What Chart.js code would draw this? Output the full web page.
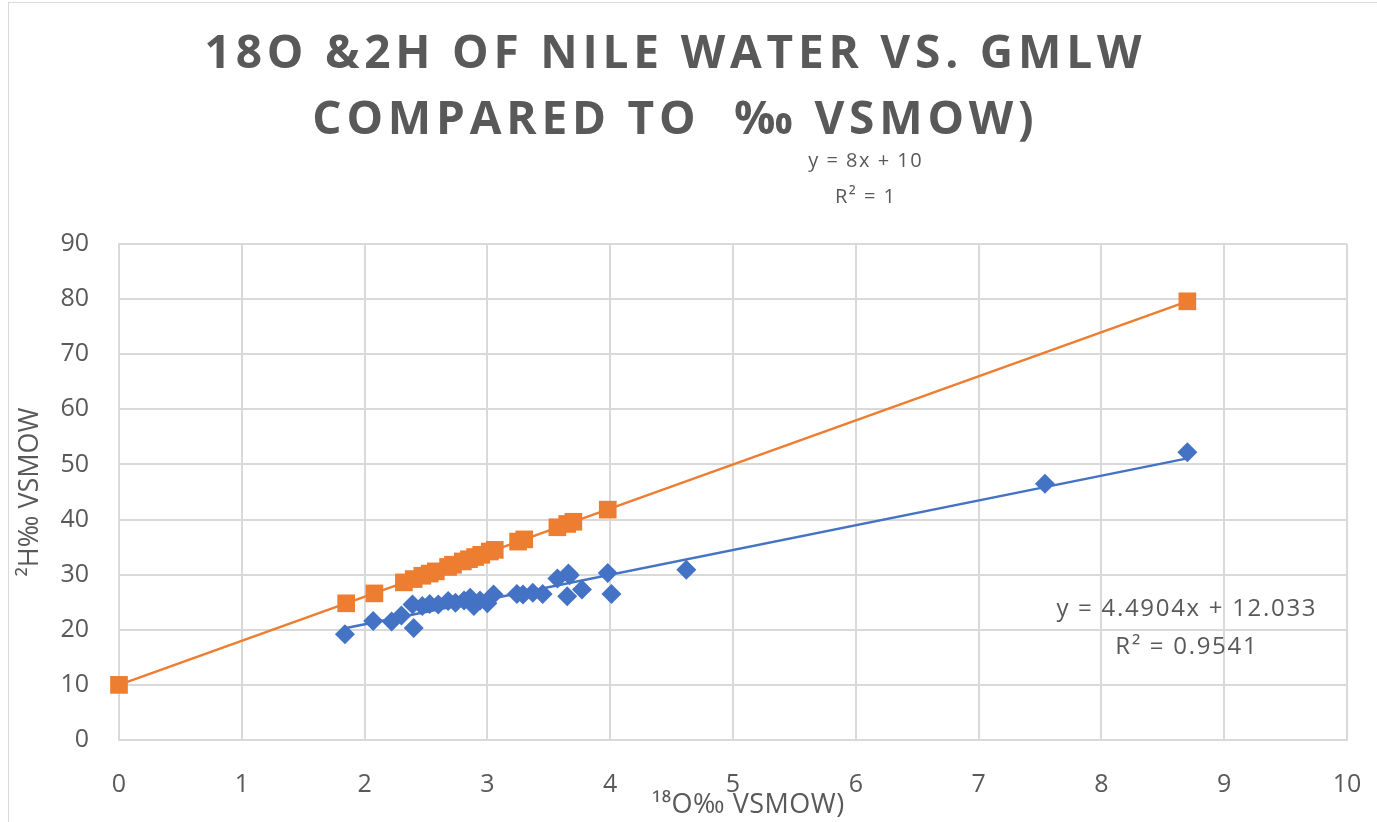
<!DOCTYPE html>
<html>
<head>
<meta charset="utf-8">
<script src="https://cdn.jsdelivr.net/npm/chart.js@4.4.1/dist/chart.umd.min.js"></script>
<style>
  html, body { margin: 0; padding: 0; background: #fff; }
  #wrap { position: relative; width: 1377px; height: 822px; }
  #frame { position: absolute; left: 8px; top: 2px; width: 1380px; height: 830px; border: 1px solid #d9d9d9; box-sizing: border-box; pointer-events: none; }
  canvas { display: block; }
</style>
</head>
<body>
<div id="wrap">
  <canvas id="c" width="1377" height="822"></canvas>
  <div id="frame"></div>
</div>
<script>
// ---- Data ----
const nileO18 = [1.84, 2.07, 2.22, 2.30, 2.39, 2.40, 2.47, 2.53, 2.60, 2.68, 2.74, 2.81, 2.86, 2.89, 2.94, 3.00, 3.05, 3.24, 3.29, 3.37, 3.45, 3.57, 3.66, 3.67, 3.65, 3.77, 3.98, 4.01, 4.62, 7.54, 8.70];
const nileH2  = [19.2, 21.6, 21.5, 22.6, 24.6, 20.3, 24.3, 24.7, 24.6, 25.2, 24.9, 25.3, 25.8, 24.3, 25.3, 24.8, 26.4, 26.5, 26.4, 26.7, 26.5, 29.3, 30.2, 29.9, 26.1, 27.3, 30.3, 26.5, 30.9, 46.5, 52.2];

const gmwlO18 = [0, 1.85, 2.08, 2.32, 2.40, 2.47, 2.53, 2.58, 2.68, 2.72, 2.80, 2.85, 2.90, 2.95, 3.02, 3.06, 3.25, 3.30, 3.57, 3.65, 3.70, 3.98, 8.70];
const gmwlH2  = [10, 24.8, 26.6, 28.6, 29.2, 29.8, 30.2, 30.6, 31.4, 31.8, 32.4, 32.8, 33.2, 33.6, 34.2, 34.5, 36.0, 36.4, 38.6, 39.2, 39.6, 41.8, 79.6];

const xTicks = [0, 1, 2, 3, 4, 5, 6, 7, 8, 9, 10];
const yTicks = [0, 10, 20, 30, 40, 50, 60, 70, 80, 90];

// Trendline coefficients shown on the chart
const nileSlope = 4.4904, nileIntercept = 12.033, nileR2 = '0.9541';
const gmwlSlope = 8, gmwlIntercept = 10, gmwlR2 = '1';

const titleLines = ['18O &2H OF NILE WATER VS. GMLW', 'COMPARED TO  \u2030 VSMOW)'];
const xTitle = '\u00b9\u2078O\u2030 VSMOW)';
const yTitle = '\u00b2H\u2030 VSMOW';

// ---- Build ----
const BLUE = '#4472C4', ORANGE = '#ED7D31', TEXT = '#595959', GRID = '#d9d9d9';
const pts = (xs, ys) => xs.map((x, i) => ({ x: x, y: ys[i] }));
function trend(xs, m, b) {
  const lo = Math.min(...xs), hi = Math.max(...xs);
  return [{ x: lo, y: m * lo + b }, { x: hi, y: m * hi + b }];
}

function spacedText(ctx, text, x, y, spacing) {
  if ('letterSpacing' in ctx) {
    ctx.letterSpacing = spacing + 'px';
    ctx.fillText(text, x + spacing / 2, y);
    ctx.letterSpacing = '0px';
  } else {
    ctx.fillText(text, x, y);
  }
}

const textPlugin = {
  id: 'texts',
  afterDraw(chart) {
    const ctx = chart.ctx;
    ctx.save();
    ctx.fillStyle = TEXT;
    ctx.textAlign = 'center';
    // Title
    ctx.textBaseline = 'alphabetic';
    ctx.font = 'bold 46px "Open Sans"';
    spacedText(ctx, titleLines[0], 673, 68, 4.8);
    spacedText(ctx, titleLines[1], 673, 134, 4.8);
    // x axis title
    ctx.font = '27px "Open Sans"';
    spacedText(ctx, xTitle, 748, 813, 0.5);
    // Trendline labels
    ctx.textBaseline = 'middle';
    ctx.font = '20px "Open Sans"';
    spacedText(ctx, 'y = ' + gmwlSlope + 'x + ' + gmwlIntercept, 865, 161, 1.5);
    spacedText(ctx, 'R\u00b2 = ' + gmwlR2, 865, 197, 1.5);
    ctx.font = '24px "Open Sans"';
    spacedText(ctx, 'y = ' + nileSlope + 'x + ' + nileIntercept, 1186, 609, 1.7);
    spacedText(ctx, 'R\u00b2 = ' + nileR2, 1186, 647, 1.7);
    ctx.restore();
  }
};

new Chart(document.getElementById('c'), {
  type: 'scatter',
  data: {
    datasets: [
      { label: 'Nile trend', type: 'line', data: trend(nileO18, nileSlope, nileIntercept), borderColor: BLUE, borderWidth: 2.5, pointRadius: 0, fill: false, order: 1, clip: false },
      { label: 'GMWL trend', type: 'line', data: trend(gmwlO18, gmwlSlope, gmwlIntercept), borderColor: ORANGE, borderWidth: 2.5, pointRadius: 0, fill: false, order: 1, clip: false },
      { label: 'Nile water', data: pts(nileO18, nileH2), pointStyle: 'rectRot', pointRadius: 10, backgroundColor: BLUE, borderColor: BLUE, borderWidth: 0, order: 2, clip: false },
      { label: 'GMWL', data: pts(gmwlO18, gmwlH2), pointStyle: 'rect', pointRadius: 12.5, backgroundColor: ORANGE, borderColor: ORANGE, borderWidth: 0, order: 2, clip: false }
    ]
  },
  options: {
    responsive: false,
    animation: false,
    events: [],
    layout: { padding: { left: 10, right: 0, top: 244, bottom: 4 } },
    plugins: {
      legend: { display: false },
      tooltip: { enabled: false },
      title: { display: false }
    },
    scales: {
      x: {
        type: 'linear', min: xTicks[0], max: xTicks[xTicks.length - 1],
        afterBuildTicks: s => { s.ticks = xTicks.map(v => ({ value: v })); },
        afterFit: s => { s.height = 78; s.paddingRight = 30; s.paddingLeft = 0; },
        grid: { color: GRID, lineWidth: 2, drawTicks: false },
        border: { color: GRID, width: 2 },
        ticks: { color: TEXT, font: { family: '"Open Sans"', size: 25 }, padding: 30 },
        title: { display: false }
      },
      y: {
        type: 'linear', min: yTicks[0], max: yTicks[yTicks.length - 1],
        afterBuildTicks: s => { s.ticks = yTicks.map(v => ({ value: v })); },
        afterFit: s => { s.width = 109; },
        grid: { color: GRID, lineWidth: 2, drawTicks: false },
        border: { color: GRID, width: 2 },
        ticks: { color: TEXT, font: { family: '"Open Sans"', size: 25 }, padding: 30 },
        title: { display: true, text: yTitle, color: TEXT, font: { family: '"Open Sans"', size: 27 }, padding: { top: 4, bottom: 0 } }
      }
    }
  },
  plugins: [textPlugin]
});
</script>
</body>
</html>
